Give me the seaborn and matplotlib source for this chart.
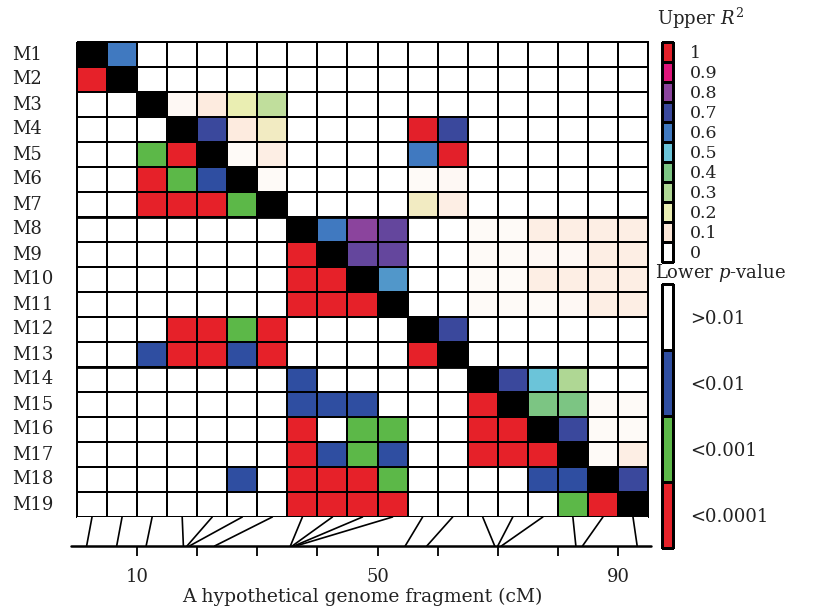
import numpy as np
import pandas as pd
import matplotlib
matplotlib.use("Agg")
import matplotlib.pyplot as plt
import seaborn as sns
from matplotlib.colors import LinearSegmentedColormap, ListedColormap

markers = [f"M{i}" for i in range(1, 20)]
# genetic position of each marker on the fragment (cM)
positions_cm = [1.6, 6.6, 11.5, 17.7, 18.3, 18.7, 22.9, 35.5, 35.8, 36.1, 36.4,
                54.6, 58.2, 69.5, 70.0, 70.6, 83.0, 84.1, 93.2]

# upper triangle: R^2 between marker pairs (row, col, value), unlisted = 0
r2_pairs = [
    (1, 2, 0.6),
    (3, 4, 0.03), (3, 5, 0.08), (3, 6, 0.2), (3, 7, 0.27),
    (4, 5, 0.7), (4, 6, 0.08), (4, 7, 0.16), (4, 12, 1.0), (4, 13, 0.7),
    (5, 6, 0.02), (5, 7, 0.07), (5, 12, 0.6), (5, 13, 1.0),
    (6, 7, 0.02), (6, 12, 0.02), (6, 13, 0.03),
    (7, 12, 0.16), (7, 13, 0.07),
    (8, 9, 0.6), (8, 10, 0.8), (8, 11, 0.75), (8, 14, 0.02), (8, 15, 0.02),
    (8, 16, 0.07), (8, 17, 0.07), (8, 18, 0.07), (8, 19, 0.07),
    (9, 10, 0.75), (9, 11, 0.75), (9, 14, 0.02), (9, 15, 0.02), (9, 16, 0.03),
    (9, 17, 0.03), (9, 18, 0.07), (9, 19, 0.07),
    (10, 11, 0.56), (10, 14, 0.02), (10, 15, 0.02), (10, 16, 0.07),
    (10, 17, 0.07), (10, 18, 0.07), (10, 19, 0.07),
    (11, 14, 0.02), (11, 15, 0.02), (11, 16, 0.02), (11, 17, 0.03),
    (11, 18, 0.07), (11, 19, 0.07),
    (12, 13, 0.7),
    (14, 15, 0.7), (14, 16, 0.5), (14, 17, 0.3),
    (15, 16, 0.4), (15, 17, 0.4), (15, 18, 0.02), (15, 19, 0.02),
    (16, 17, 0.7), (16, 18, 0.02), (16, 19, 0.02),
    (17, 18, 0.02), (17, 19, 0.07),
    (18, 19, 0.7),
]

# lower triangle: p-value class (row, col, class) 1 = <0.01, 2 = <0.001, 3 = <0.0001
p_pairs = [
    (2, 1, 3),
    (5, 3, 2), (5, 4, 3),
    (6, 3, 3), (6, 4, 2), (6, 5, 1),
    (7, 3, 3), (7, 4, 3), (7, 5, 3), (7, 6, 2),
    (9, 8, 3),
    (10, 8, 3), (10, 9, 3),
    (11, 8, 3), (11, 9, 3), (11, 10, 3),
    (12, 4, 3), (12, 5, 3), (12, 6, 2), (12, 7, 3),
    (13, 3, 1), (13, 4, 3), (13, 5, 3), (13, 6, 1), (13, 7, 3), (13, 12, 3),
    (14, 8, 1),
    (15, 8, 1), (15, 9, 1), (15, 10, 1), (15, 14, 3),
    (16, 8, 3), (16, 10, 2), (16, 11, 2), (16, 14, 3), (16, 15, 3),
    (17, 8, 3), (17, 9, 1), (17, 10, 2), (17, 11, 1), (17, 14, 3), (17, 15, 3), (17, 16, 3),
    (18, 6, 1), (18, 8, 3), (18, 9, 3), (18, 10, 3), (18, 11, 2), (18, 16, 1), (18, 17, 1),
    (19, 8, 3), (19, 9, 3), (19, 10, 3), (19, 11, 3), (19, 17, 2), (19, 18, 3),
]

r2_levels = [0, 0.1, 0.2, 0.3, 0.4, 0.5, 0.6, 0.7, 0.8, 0.9, 1]
r2_colors = ["#ffffff", "#fce6d6", "#eaeeb2", "#aed793", "#7cc583", "#6cc6da",
             "#4079c0", "#38489c", "#8b449d", "#e0157c", "#e3202a"]
r2_ticklabels = ["1", "0.9", "0.8", "0.7", "0.6", "0.5", "0.4", "0.3", "0.2", "0.1", "0"]
p_classes = [0, 1, 2, 3]
p_labels = [">0.01", "<0.01", "<0.001", "<0.0001"]
p_colors = ["#ffffff", "#2f4ea1", "#5cb848", "#e62129"]
genome_ticks = [10, 20, 30, 40, 50, 60, 70, 80, 90]
genome_ticklabels = ["10", "", "", "", "50", "", "", "", "90"]

sns.set_style("white")
plt.rcParams["font.family"] = ["DejaVu Serif"]
plt.rcParams["mathtext.fontset"] = "dejavuserif"

n = len(markers)
idx = np.arange(n)
upper = pd.DataFrame(np.where(idx[:, None] < idx[None, :], 0.0, np.nan), index=markers, columns=markers)
for i, j, v in r2_pairs:
    upper.iloc[i - 1, j - 1] = v
lower = pd.DataFrame(np.where(idx[:, None] > idx[None, :], 0.0, np.nan), index=markers, columns=markers)
for i, j, v in p_pairs:
    lower.iloc[i - 1, j - 1] = v
diag = pd.DataFrame(np.where(idx[:, None] == idx[None, :], 1.0, np.nan), index=markers, columns=markers)

r2_cmap = LinearSegmentedColormap.from_list("r2", list(zip(r2_levels, r2_colors)))
p_cmap = ListedColormap(p_colors)

W, H = 816, 608
fig = plt.figure(figsize=(W / 100, H / 100), dpi=100)

def px_axes(x0, y0, x1, y1):
    return fig.add_axes([x0 / W, 1 - y1 / H, (x1 - x0) / W, (y1 - y0) / H])

# LD matrix
ax = px_axes(77, 42, 648, 517)
grid = dict(linewidths=1.3, linecolor="black", cbar=False, ax=ax)
sns.heatmap(upper, mask=upper.isna(), cmap=r2_cmap, vmin=0, vmax=1, **grid)
sns.heatmap(lower, mask=lower.isna(), cmap=p_cmap, vmin=-0.5, vmax=3.5, **grid)
sns.heatmap(diag, mask=diag.isna(), cmap=ListedColormap(["black"]), vmin=0, vmax=1, **grid)
for c in ax.collections:
    c.set_clip_on(False)
ax.axhline(7, color="black", lw=2.0)
ax.axhline(13, color="black", lw=2.0)
ax.set_xticks([])
ax.set_yticks(idx + 0.5)
ax.set_yticklabels(markers, rotation=0, ha="left", fontsize=13, color="#222222")
ax.tick_params(axis="y", length=0, pad=47)
ax.set_xlabel("")
ax.set_ylabel("")

# genome fragment with links to marker columns
gax = px_axes(77, 517, 648, 546)
gax.set_xlim(0, 95)
gax.set_ylim(0, 1)
col_width = 95 / n
for i, pos in enumerate(positions_cm):
    gax.plot([pos, (i + 0.5) * col_width], [0, 1], color="black", lw=1.2)
for s in ["top", "left", "right", "bottom"]:
    gax.spines[s].set_visible(False)
gax.axhline(0, xmin=-0.01, xmax=1.006, color="black", lw=1.8, clip_on=False)
gax.set_yticks([])
gax.set_xticks(genome_ticks)
gax.set_xticklabels(genome_ticklabels, fontsize=13, color="#222222")
gax.tick_params(axis="x", direction="out", length=7, width=1.3, color="black", pad=9, bottom=True)
gax.set_xlabel("A hypothetical genome fragment (cM)", fontsize=13.5, color="#222222", labelpad=1)

# upper R^2 legend
lax1 = px_axes(662, 42, 673, 262)
r2_df = pd.DataFrame({"R2": r2_levels[::-1]}, index=r2_ticklabels)
sns.heatmap(r2_df, cmap=r2_cmap, vmin=0, vmax=1, cbar=False, linewidths=1,
            linecolor="black", xticklabels=False, ax=lax1)
for c in lax1.collections:
    c.set_clip_on(False)
lax1.yaxis.set_ticks_position("right")
lax1.set_yticklabels(r2_ticklabels, rotation=0, ha="left", fontsize=12.5, color="#222222")
lax1.tick_params(axis="y", length=0, pad=12)
lax1.set_ylabel("")
fig.text(657 / W, 1 - 18 / H, "Upper $R^2$", ha="left", va="center", fontsize=13, color="#222222")

# lower p-value legend
lax2 = px_axes(662, 284, 673, 548)
p_df = pd.DataFrame({"p": p_classes}, index=p_labels)
sns.heatmap(p_df, cmap=p_cmap, vmin=-0.5, vmax=3.5, cbar=False, linewidths=1,
            linecolor="black", xticklabels=False, ax=lax2)
for c in lax2.collections:
    c.set_clip_on(False)
lax2.yaxis.set_ticks_position("right")
lax2.set_yticklabels(p_labels, rotation=0, ha="left", fontsize=13, color="#222222")
lax2.tick_params(axis="y", length=0, pad=12)
lax2.set_ylabel("")
fig.text(655 / W, 1 - 273 / H, "Lower $p$-value", ha="left", va="center", fontsize=13, color="#222222")

fig.savefig("out.png", dpi=100)
